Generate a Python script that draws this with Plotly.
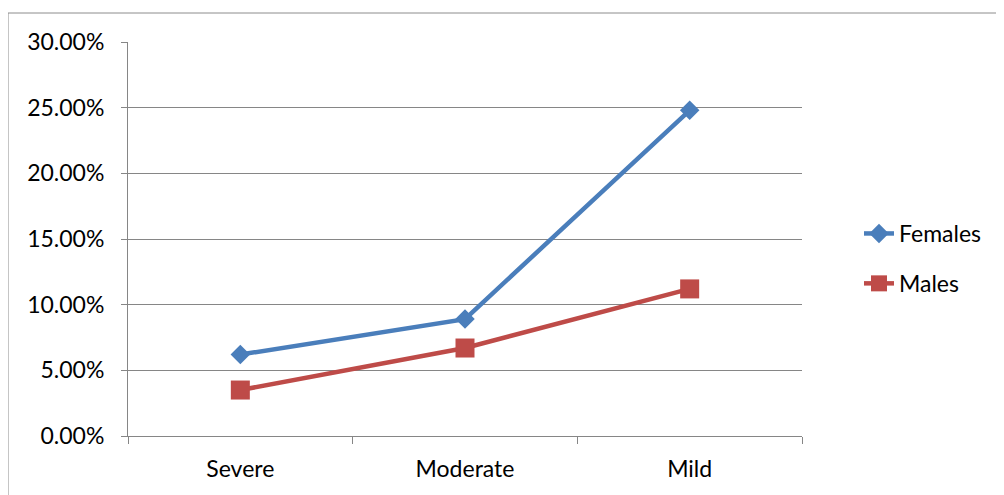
import plotly.graph_objects as go

categories = ["Severe", "Moderate", "Mild"]
females = [0.062, 0.089, 0.248]
males = [0.035, 0.067, 0.112]
y_ticks = [0, 0.05, 0.10, 0.15, 0.20, 0.25, 0.30]

# the page adds an 8px body margin; work in page pixels and convert
OFF = 8
W, H = 1004 - OFF, 495 - OFF
L, T = 128 - OFF, 42 - OFF
R = W - (802 - OFF)
B = H - (436 - OFF)
pw, ph = W - L - R, H - T - B

FONT = "Lato"
GRID = "#868686"

fig = go.Figure()
fig.add_trace(go.Scatter(
    x=categories, y=females, name="Females", mode="lines+markers",
    legendgroup="f",
    line=dict(color="#4a7ebb", width=4.5),
    marker=dict(symbol="diamond", size=15, color="#4a7ebb"),
))
fig.add_trace(go.Scatter(
    x=categories, y=males, name="Males", mode="lines+markers",
    legendgroup="m",
    line=dict(color="#be4b48", width=4.5),
    marker=dict(symbol="square", size=19, color="#be4b48"),
))

def px_x(x):  # page px -> paper
    return (x - OFF - L) / pw

def px_y(y):
    return (H - B - (y - OFF)) / ph

fig.update_layout(
    width=W, height=H,
    margin=dict(l=L, r=R, t=T, b=B, autoexpand=False),
    paper_bgcolor="white", plot_bgcolor="white",
    font=dict(family=FONT, size=23, color="#000000"),
    showlegend=True,
    legend=dict(x=px_x(859), y=px_y(212), xanchor="left", yanchor="top",
                font=dict(family=FONT, size=23), tracegroupgap=17,
                itemsizing="trace", bgcolor="rgba(0,0,0,0)"),
    xaxis=dict(
        type="category", range=[-0.5, 2.5], tickson="boundaries",
        ticks="outside", ticklen=7, tickcolor=GRID, tickwidth=1,
        showline=True, linecolor=GRID, linewidth=1, showgrid=False,
        ticklabelstandoff=12, zeroline=False,
    ),
    yaxis=dict(
        range=[0, 0.30], tickvals=y_ticks, tickformat=".2%",
        ticks="outside", ticklen=6, tickcolor=GRID, tickwidth=1,
        showline=True, linecolor=GRID, linewidth=1,
        showgrid=True, gridcolor=GRID, gridwidth=1, zeroline=False,
        ticklabelstandoff=12,
    ),
    shapes=[dict(type="rect", xref="paper", yref="paper",
                 x0=px_x(8), x1=px_x(1012), y0=px_y(503), y1=px_y(13),
                 line=dict(color="#8c8c8c", width=1), layer="below")],
)

fig.write_html("out.html")
